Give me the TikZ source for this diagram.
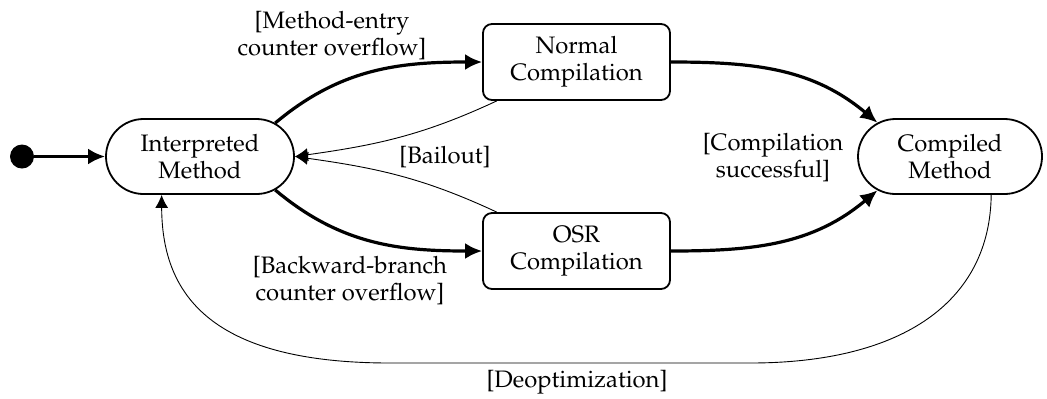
\documentclass[tikz,border=0pt]{standalone}
\usepackage[T1]{fontenc}
\usepackage{mathpazo}
\usetikzlibrary{arrows.meta,shapes.misc}
\begin{document}
\begin{tikzpicture}[x=0.5pt,y=-0.5pt,
  lbl/.style={font=\fontsize{11.9}{13.5}\selectfont, align=center, inner sep=0pt},
  stadium/.style={rounded rectangle, draw, line width=0.9pt, minimum width=94pt, minimum height=37.5pt, inner sep=0pt, lbl},
  boxstate/.style={rectangle, rounded corners=4.5pt, draw, line width=0.9pt, minimum width=93.5pt, minimum height=38pt, inner sep=0pt, lbl},
  thickarr/.style={line width=1.6pt, -{Latex[length=8.5pt,width=8pt]}},
  thinarr/.style={line width=0.45pt, -{Latex[length=6.5pt,width=6.5pt]}},
  initdot/.style={circle, fill=black, inner sep=0pt, minimum size=12pt}
]
\useasboundingbox (0,0) rectangle (1047,398);

\node[initdot] (s) at (22,156.5) {};
\node[stadium] (I) at (200,156.5) {Interpreted\\Method};
\node[boxstate] (N) at (576.5,62) {Normal\\Compilation};
\node[boxstate] (O) at (576.5,251) {OSR\\Compilation};
\node[stadium, minimum width=92pt] (C) at (950,156.5) {Compiled\\Method};

\draw[thickarr] (s) -- (I);
\draw[thickarr] (I.24) to[out=40,in=180] (N.west);
\draw[thickarr] (I.-24) to[out=-40,in=180] (O.west);
\draw[thickarr] (N.east) to[out=0,in=140] (C.155);
\draw[thickarr] (O.east) to[out=0,in=220] (C.205);
\draw[thinarr] (N.206) to[out=205,in=8] (I.east);
\draw[thinarr] (O.154) to[out=155,in=-8] (I.east);
\draw[thinarr] (C.-43) .. controls (990,300) and (905,363) .. (750,363) -- (390,363) .. controls (205,363) and (162,290) .. (I.225);

\node[lbl] (l1) at (332,36) {[Method-entry\\counter overflow]};
\node[lbl] (l2) at (445,157) {[Bailout]};
\node[lbl] (l3) at (350,281) {[Backward-branch\\counter overflow]};
\node[lbl] (l4) at (773,158) {[Compilation\\successful]};
\node[lbl] (l5) at (577,382) {[Deoptimization]};
\end{tikzpicture}
\end{document}
